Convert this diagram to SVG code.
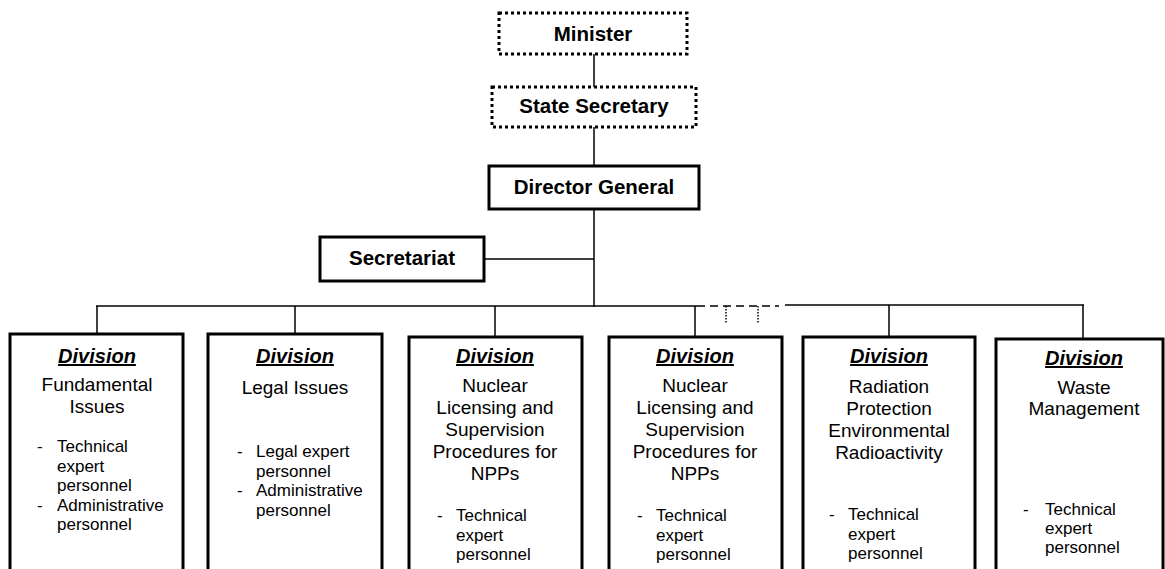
<svg xmlns="http://www.w3.org/2000/svg" width="1165" height="569" viewBox="0 0 1165 569">
  <style>
    .box { fill: #fff; stroke: #000; stroke-width: 3; }
    .dotbox { fill: #fff; stroke: #000; stroke-width: 3; stroke-dasharray: 3 3; }
    .conn { fill: none; stroke: #000; stroke-width: 1.5; }
    .dash { fill: none; stroke: #000; stroke-width: 1.5; stroke-dasharray: 8 5; }
    .dot { fill: none; stroke: #000; stroke-width: 1.5; stroke-dasharray: 1.5 1.5; }
    .head { font-family: "Liberation Sans", Arial, sans-serif; font-weight: bold; font-size: 20.5px; text-anchor: middle; fill: #000; }
    .div { font-family: "Liberation Sans", Arial, sans-serif; font-weight: bold; font-style: italic; font-size: 20px; text-anchor: middle; text-decoration: underline; fill: #000; }
    .name { font-family: "Liberation Sans", Arial, sans-serif; font-size: 19px; text-anchor: middle; fill: #000; }
    .item { font-family: "Liberation Sans", Arial, sans-serif; font-size: 17px; fill: #000; }
  </style>

  <!-- connectors -->
  <g id="connectors">
    <line class="conn" x1="594" y1="54" x2="594" y2="87"/>
    <line class="conn" x1="594" y1="127" x2="594" y2="166"/>
    <line class="conn" x1="594" y1="209" x2="594" y2="307"/>
    <line class="conn" x1="484" y1="259" x2="594" y2="259"/>
    <line class="conn" x1="96" y1="306" x2="697" y2="306"/>
    <line class="dash" x1="697" y1="306" x2="779" y2="306"/>
    <line class="dot" x1="726" y1="306" x2="726" y2="323"/>
    <line class="dot" x1="758" y1="306" x2="758" y2="323"/>
    <line class="conn" x1="785" y1="305" x2="1084" y2="305"/>
    <line class="conn" x1="97" y1="306" x2="97" y2="334"/>
    <line class="conn" x1="295" y1="306" x2="295" y2="334"/>
    <line class="conn" x1="495" y1="306" x2="495" y2="337"/>
    <line class="conn" x1="695" y1="306" x2="695" y2="337"/>
    <line class="conn" x1="889" y1="305" x2="889" y2="337"/>
    <line class="conn" x1="1083" y1="305" x2="1083" y2="339"/>
  </g>

  <g id="minister">
    <rect class="dotbox" x="499" y="13" width="188" height="41"/>
    <text class="head" x="593" y="41">Minister</text>
  </g>

  <g id="state-secretary">
    <rect class="dotbox" x="492" y="87" width="204" height="40"/>
    <text class="head" x="594" y="113">State Secretary</text>
  </g>

  <g id="director-general">
    <rect class="box" x="489" y="166" width="210" height="43"/>
    <text class="head" x="594" y="194">Director General</text>
  </g>

  <g id="secretariat">
    <rect class="box" x="320" y="237" width="164" height="44"/>
    <text class="head" x="402" y="265">Secretariat</text>
  </g>

  <g id="div-fundamental">
    <rect class="box" x="10" y="334" width="173" height="260"/>
    <text class="div" x="97" y="363">Division</text>
    <text class="name" x="97" y="391">Fundamental</text>
    <text class="name" x="97" y="413">Issues</text>
    <text class="item" x="37" y="452">-</text>
    <text class="item" x="57" y="452">Technical</text>
    <text class="item" x="57" y="471.5">expert</text>
    <text class="item" x="57" y="491">personnel</text>
    <text class="item" x="37" y="510.5">-</text>
    <text class="item" x="57" y="510.5">Administrative</text>
    <text class="item" x="57" y="530">personnel</text>
  </g>

  <g id="div-legal">
    <rect class="box" x="208" y="334" width="174" height="260"/>
    <text class="div" x="295" y="363">Division</text>
    <text class="name" x="295" y="394">Legal Issues</text>
    <text class="item" x="237" y="457">-</text>
    <text class="item" x="256" y="457">Legal expert</text>
    <text class="item" x="256" y="476.5">personnel</text>
    <text class="item" x="237" y="496">-</text>
    <text class="item" x="256" y="496">Administrative</text>
    <text class="item" x="256" y="515.5">personnel</text>
  </g>

  <g id="div-licensing-a">
    <rect class="box" x="409" y="337" width="173" height="260"/>
    <text class="div" x="495" y="363">Division</text>
    <text class="name" x="495" y="392">Nuclear</text>
    <text class="name" x="495" y="414">Licensing and</text>
    <text class="name" x="495" y="436">Supervision</text>
    <text class="name" x="495" y="458">Procedures for</text>
    <text class="name" x="495" y="480">NPPs</text>
    <text class="item" x="437" y="521">-</text>
    <text class="item" x="456" y="521">Technical</text>
    <text class="item" x="456" y="540.5">expert</text>
    <text class="item" x="456" y="560">personnel</text>
  </g>

  <g id="div-licensing-b">
    <rect class="box" x="609" y="337" width="173" height="260"/>
    <text class="div" x="695" y="363">Division</text>
    <text class="name" x="695" y="392">Nuclear</text>
    <text class="name" x="695" y="414">Licensing and</text>
    <text class="name" x="695" y="436">Supervision</text>
    <text class="name" x="695" y="458">Procedures for</text>
    <text class="name" x="695" y="480">NPPs</text>
    <text class="item" x="637" y="521">-</text>
    <text class="item" x="656" y="521">Technical</text>
    <text class="item" x="656" y="540.5">expert</text>
    <text class="item" x="656" y="560">personnel</text>
  </g>

  <g id="div-radiation">
    <rect class="box" x="803" y="337" width="172" height="260"/>
    <text class="div" x="889" y="363">Division</text>
    <text class="name" x="889" y="393">Radiation</text>
    <text class="name" x="889" y="415">Protection</text>
    <text class="name" x="889" y="437">Environmental</text>
    <text class="name" x="889" y="459">Radioactivity</text>
    <text class="item" x="829" y="520">-</text>
    <text class="item" x="848" y="520">Technical</text>
    <text class="item" x="848" y="539.5">expert</text>
    <text class="item" x="848" y="559">personnel</text>
  </g>

  <g id="div-waste">
    <rect class="box" x="996" y="339" width="167" height="260"/>
    <text class="div" x="1084" y="365">Division</text>
    <text class="name" x="1084" y="394">Waste</text>
    <text class="name" x="1084" y="415">Management</text>
    <text class="item" x="1023" y="515">-</text>
    <text class="item" x="1045" y="515">Technical</text>
    <text class="item" x="1045" y="534">expert</text>
    <text class="item" x="1045" y="553">personnel</text>
  </g>
</svg>
